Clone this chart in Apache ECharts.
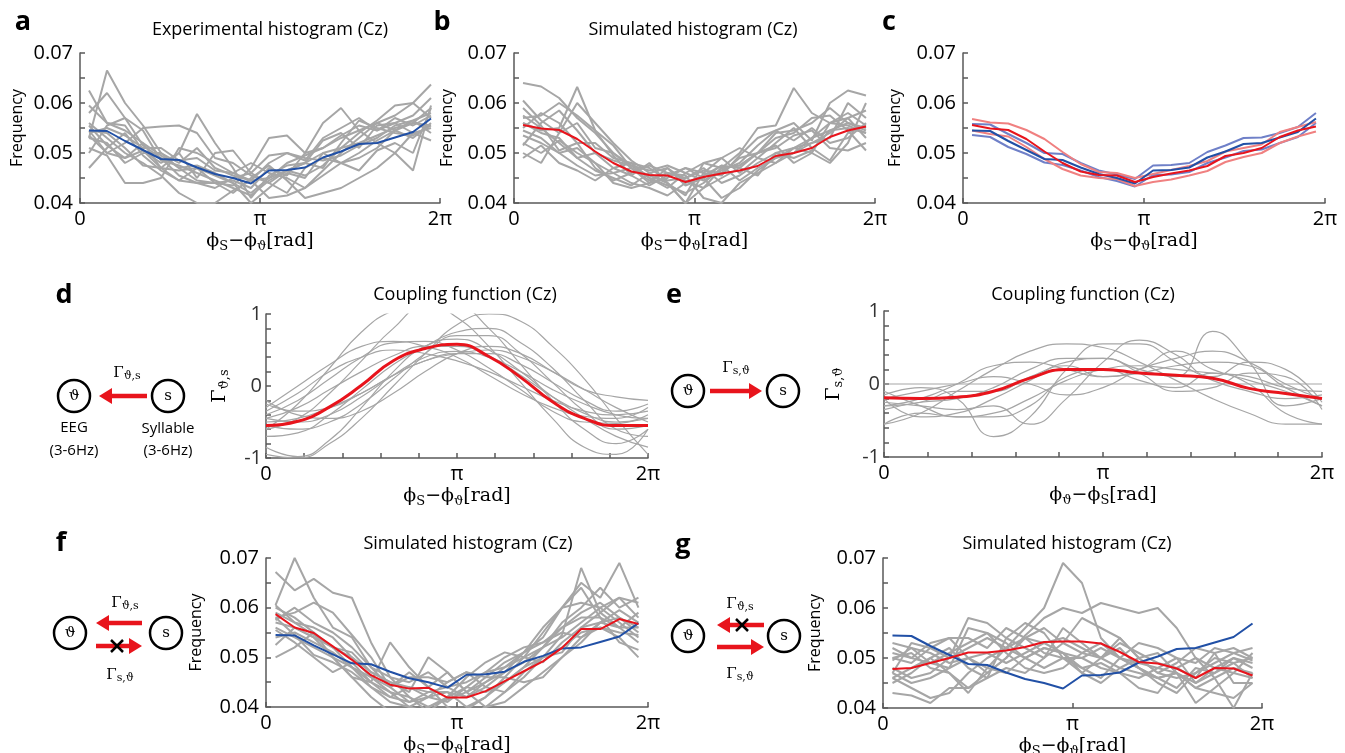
<!DOCTYPE html>
<html>
<head>
<meta charset="utf-8">
<script src="https://cdn.jsdelivr.net/npm/echarts@6/dist/echarts.min.js"></script>
<style>
  html, body { margin: 0; padding: 0; background: #fff; }
  #main { width: 1345px; height: 753px; }
</style>
</head>
<body>
<div id="main"></div>
<script>
const PI = Math.PI;
const nBins = 20;
// histogram bins plotted at their centres, coupling curves sampled every pi/6
const binCenters = Array.from({ length: nBins }, (_, i) => (i + 0.5) * 2 * PI / nBins);
const curveX = Array.from({ length: 13 }, (_, k) => k * PI / 6);

// group means
const expMean = [0.0545,0.0544,0.0524,0.0506,0.0488,0.0486,0.0471,0.0458,0.0450,0.0439,0.0465,0.0466,0.0471,0.0491,0.0503,0.0518,0.0520,0.0531,0.0542,0.0569];
const simMean = [0.0556,0.0549,0.0546,0.0528,0.0503,0.0480,0.0463,0.0456,0.0455,0.0442,0.0452,0.0459,0.0465,0.0474,0.0494,0.0500,0.0510,0.0532,0.0545,0.0553];
const fMean   = [0.0587,0.0560,0.0549,0.0522,0.0495,0.0464,0.0445,0.0437,0.0439,0.0419,0.0419,0.0432,0.0452,0.0472,0.0492,0.0519,0.0557,0.0557,0.0577,0.0567];
const gMean   = [0.0478,0.0480,0.0490,0.0500,0.0511,0.0511,0.0515,0.0522,0.0532,0.0533,0.0533,0.0529,0.0512,0.0492,0.0489,0.0479,0.0460,0.0480,0.0479,0.0465];

// panel c: mean +/- s.e.
const expHi = [0.0558,0.0557,0.0538,0.0520,0.0500,0.0498,0.0480,0.0465,0.0457,0.0448,0.0475,0.0476,0.0480,0.0502,0.0515,0.0530,0.0531,0.0540,0.0552,0.0580];
const expLo = [0.0536,0.0532,0.0512,0.0498,0.0481,0.0476,0.0465,0.0452,0.0444,0.0433,0.0456,0.0457,0.0462,0.0480,0.0491,0.0504,0.0507,0.0520,0.0532,0.0560];
const simHi = [0.0568,0.0561,0.0559,0.0546,0.0528,0.0502,0.0478,0.0462,0.0460,0.0450,0.0458,0.0466,0.0474,0.0484,0.0503,0.0510,0.0517,0.0542,0.0552,0.0562];
const simLo = [0.0545,0.0538,0.0533,0.0512,0.0488,0.0468,0.0455,0.0450,0.0448,0.0434,0.0442,0.0447,0.0455,0.0464,0.0482,0.0492,0.0500,0.0520,0.0533,0.0543];

// individual subjects, panel a
const grayA = [
  [0.0625,0.0560,0.0545,0.0520,0.0495,0.0470,0.0475,0.0460,0.0440,0.0420,0.0450,0.0480,0.0495,0.0510,0.0530,0.0545,0.0560,0.0575,0.0600,0.0637],
  [0.0530,0.0665,0.0600,0.0555,0.0500,0.0480,0.0510,0.0470,0.0455,0.0445,0.0480,0.0500,0.0485,0.0530,0.0550,0.0570,0.0545,0.0560,0.0575,0.0610],
  [0.0545,0.0500,0.0490,0.0505,0.0480,0.0500,0.0578,0.0520,0.0470,0.0410,0.0455,0.0475,0.0480,0.0525,0.0540,0.0510,0.0555,0.0560,0.0540,0.0550],
  [0.0470,0.0510,0.0540,0.0495,0.0465,0.0445,0.0440,0.0430,0.0450,0.0460,0.0440,0.0420,0.0470,0.0490,0.0480,0.0500,0.0525,0.0545,0.0560,0.0590],
  [0.0580,0.0620,0.0570,0.0515,0.0490,0.0455,0.0440,0.0440,0.0435,0.0470,0.0530,0.0535,0.0500,0.0560,0.0590,0.0545,0.0520,0.0500,0.0465,0.0595],
  [0.0510,0.0495,0.0440,0.0440,0.0450,0.0510,0.0500,0.0480,0.0460,0.0480,0.0460,0.0450,0.0430,0.0455,0.0480,0.0490,0.0510,0.0545,0.0565,0.0540],
  [0.0560,0.0530,0.0500,0.0480,0.0455,0.0420,0.0400,0.0400,0.0425,0.0445,0.0410,0.0415,0.0430,0.0465,0.0500,0.0530,0.0560,0.0545,0.0530,0.0560],
  [0.0535,0.0500,0.0520,0.0550,0.0553,0.0555,0.0540,0.0490,0.0480,0.0455,0.0440,0.0465,0.0455,0.0475,0.0510,0.0540,0.0565,0.0595,0.0600,0.0570],
  [0.0595,0.0560,0.0555,0.0505,0.0470,0.0445,0.0470,0.0440,0.0420,0.0450,0.0475,0.0445,0.0410,0.0420,0.0430,0.0450,0.0470,0.0500,0.0540,0.0525],
  [0.0545,0.0540,0.0510,0.0475,0.0470,0.0500,0.0450,0.0500,0.0505,0.0460,0.0495,0.0500,0.0490,0.0485,0.0495,0.0515,0.0530,0.0555,0.0565,0.0580],
  [0.0530,0.0520,0.0480,0.0500,0.0500,0.0470,0.0445,0.0440,0.0445,0.0430,0.0470,0.0455,0.0500,0.0510,0.0535,0.0555,0.0545,0.0570,0.0555,0.0575],
  [0.0500,0.0555,0.0570,0.0545,0.0485,0.0475,0.0460,0.0445,0.0430,0.0415,0.0445,0.0465,0.0480,0.0470,0.0520,0.0565,0.0550,0.0540,0.0535,0.0555],
  [0.0555,0.0515,0.0490,0.0520,0.0470,0.0465,0.0470,0.0455,0.0440,0.0400,0.0430,0.0460,0.0450,0.0500,0.0480,0.0465,0.0505,0.0520,0.0500,0.0590],
  [0.0540,0.0550,0.0535,0.0510,0.0510,0.0485,0.0490,0.0465,0.0460,0.0445,0.0450,0.0465,0.0480,0.0500,0.0510,0.0520,0.0535,0.0550,0.0560,0.0555]
];

// panel b
const grayB = [
  [0.0640,0.0633,0.0610,0.0570,0.0540,0.0500,0.0475,0.0450,0.0435,0.0420,0.0440,0.0470,0.0500,0.0550,0.0555,0.0630,0.0580,0.0560,0.0555,0.0540],
  [0.0605,0.0565,0.0540,0.0600,0.0560,0.0520,0.0485,0.0460,0.0440,0.0400,0.0460,0.0455,0.0495,0.0530,0.0545,0.0560,0.0525,0.0600,0.0625,0.0615],
  [0.0560,0.0545,0.0550,0.0632,0.0545,0.0495,0.0455,0.0435,0.0455,0.0470,0.0450,0.0410,0.0430,0.0465,0.0490,0.0510,0.0530,0.0560,0.0580,0.0555],
  [0.0490,0.0515,0.0480,0.0465,0.0445,0.0470,0.0480,0.0470,0.0445,0.0450,0.0470,0.0440,0.0455,0.0480,0.0500,0.0490,0.0505,0.0545,0.0550,0.0540],
  [0.0520,0.0500,0.0525,0.0500,0.0480,0.0460,0.0440,0.0430,0.0415,0.0440,0.0455,0.0475,0.0470,0.0500,0.0515,0.0480,0.0500,0.0560,0.0570,0.0530],
  [0.0570,0.0575,0.0600,0.0575,0.0545,0.0515,0.0470,0.0445,0.0460,0.0455,0.0410,0.0400,0.0440,0.0460,0.0480,0.0510,0.0500,0.0480,0.0520,0.0600],
  [0.0550,0.0580,0.0560,0.0520,0.0520,0.0490,0.0480,0.0450,0.0430,0.0460,0.0480,0.0470,0.0475,0.0500,0.0530,0.0540,0.0570,0.0575,0.0545,0.0505],
  [0.0535,0.0520,0.0500,0.0510,0.0480,0.0440,0.0430,0.0440,0.0470,0.0445,0.0430,0.0450,0.0470,0.0455,0.0500,0.0510,0.0520,0.0530,0.0600,0.0570],
  [0.0575,0.0550,0.0520,0.0490,0.0500,0.0470,0.0455,0.0480,0.0440,0.0415,0.0480,0.0490,0.0460,0.0490,0.0520,0.0550,0.0510,0.0485,0.0540,0.0555],
  [0.0515,0.0560,0.0585,0.0545,0.0500,0.0485,0.0475,0.0465,0.0475,0.0460,0.0445,0.0465,0.0480,0.0515,0.0545,0.0525,0.0550,0.0520,0.0530,0.0560],
  [0.0560,0.0540,0.0530,0.0490,0.0465,0.0450,0.0435,0.0460,0.0470,0.0435,0.0450,0.0475,0.0445,0.0470,0.0490,0.0500,0.0530,0.0545,0.0560,0.0545],
  [0.0590,0.0555,0.0505,0.0520,0.0470,0.0445,0.0460,0.0475,0.0460,0.0450,0.0465,0.0460,0.0490,0.0500,0.0510,0.0535,0.0545,0.0510,0.0505,0.0520],
  [0.0545,0.0530,0.0500,0.0475,0.0455,0.0460,0.0470,0.0455,0.0440,0.0400,0.0430,0.0470,0.0475,0.0500,0.0540,0.0545,0.0560,0.0590,0.0560,0.0550],
  [0.0500,0.0480,0.0540,0.0560,0.0510,0.0500,0.0470,0.0440,0.0450,0.0470,0.0460,0.0490,0.0510,0.0490,0.0480,0.0500,0.0520,0.0540,0.0570,0.0585]
];

// panel f
const grayF = [
  [0.0672,0.0635,0.0658,0.0630,0.0620,0.0530,0.0460,0.0420,0.0390,0.0380,0.0395,0.0420,0.0460,0.0500,0.0550,0.0600,0.0650,0.0620,0.0690,0.0600],
  [0.0605,0.0700,0.0620,0.0560,0.0540,0.0480,0.0440,0.0410,0.0420,0.0430,0.0400,0.0420,0.0450,0.0480,0.0520,0.0570,0.0600,0.0640,0.0600,0.0620],
  [0.0580,0.0590,0.0610,0.0590,0.0545,0.0500,0.0440,0.0470,0.0440,0.0400,0.0380,0.0400,0.0430,0.0470,0.0500,0.0545,0.0680,0.0590,0.0560,0.0590],
  [0.0500,0.0520,0.0550,0.0520,0.0500,0.0460,0.0430,0.0400,0.0420,0.0450,0.0470,0.0440,0.0430,0.0460,0.0500,0.0520,0.0550,0.0560,0.0540,0.0500],
  [0.0570,0.0560,0.0540,0.0520,0.0510,0.0470,0.0450,0.0430,0.0500,0.0470,0.0430,0.0460,0.0490,0.0510,0.0530,0.0560,0.0580,0.0580,0.0560,0.0530],
  [0.0555,0.0530,0.0500,0.0470,0.0490,0.0450,0.0420,0.0440,0.0420,0.0410,0.0440,0.0470,0.0480,0.0500,0.0490,0.0530,0.0560,0.0570,0.0595,0.0570],
  [0.0590,0.0570,0.0545,0.0520,0.0480,0.0440,0.0410,0.0400,0.0390,0.0420,0.0460,0.0490,0.0510,0.0500,0.0520,0.0540,0.0570,0.0600,0.0620,0.0610],
  [0.0525,0.0560,0.0540,0.0500,0.0460,0.0450,0.0530,0.0480,0.0440,0.0470,0.0430,0.0400,0.0410,0.0440,0.0470,0.0500,0.0530,0.0570,0.0580,0.0550],
  [0.0600,0.0580,0.0550,0.0500,0.0460,0.0420,0.0390,0.0380,0.0400,0.0415,0.0430,0.0450,0.0470,0.0490,0.0520,0.0560,0.0590,0.0610,0.0580,0.0560],
  [0.0580,0.0545,0.0505,0.0490,0.0470,0.0440,0.0420,0.0410,0.0430,0.0440,0.0450,0.0470,0.0500,0.0520,0.0530,0.0550,0.0540,0.0560,0.0550,0.0545],
  [0.0560,0.0540,0.0520,0.0500,0.0480,0.0460,0.0440,0.0460,0.0460,0.0450,0.0470,0.0460,0.0460,0.0450,0.0460,0.0500,0.0540,0.0570,0.0560,0.0560],
  [0.0540,0.0550,0.0530,0.0510,0.0480,0.0450,0.0430,0.0420,0.0400,0.0420,0.0440,0.0430,0.0450,0.0480,0.0500,0.0510,0.0560,0.0590,0.0620,0.0580],
  [0.0575,0.0600,0.0570,0.0550,0.0520,0.0480,0.0460,0.0450,0.0470,0.0440,0.0420,0.0440,0.0470,0.0510,0.0540,0.0600,0.0640,0.0580,0.0530,0.0515],
  [0.0605,0.0570,0.0560,0.0540,0.0500,0.0470,0.0450,0.0440,0.0430,0.0430,0.0420,0.0450,0.0480,0.0510,0.0560,0.0600,0.0610,0.0600,0.0570,0.0540]
];

// panel g
const grayG = [
  [0.0460,0.0440,0.0420,0.0430,0.0470,0.0500,0.0520,0.0560,0.0600,0.0690,0.0650,0.0540,0.0500,0.0480,0.0460,0.0470,0.0440,0.0430,0.0420,0.0450],
  [0.0430,0.0425,0.0410,0.0440,0.0440,0.0470,0.0500,0.0545,0.0580,0.0600,0.0590,0.0610,0.0600,0.0590,0.0600,0.0560,0.0500,0.0460,0.0400,0.0470],
  [0.0500,0.0490,0.0520,0.0500,0.0580,0.0570,0.0540,0.0520,0.0500,0.0530,0.0580,0.0560,0.0540,0.0500,0.0470,0.0460,0.0470,0.0490,0.0510,0.0495],
  [0.0520,0.0500,0.0490,0.0480,0.0560,0.0550,0.0530,0.0500,0.0520,0.0510,0.0500,0.0520,0.0500,0.0490,0.0480,0.0470,0.0450,0.0470,0.0500,0.0480],
  [0.0470,0.0530,0.0520,0.0540,0.0500,0.0470,0.0500,0.0540,0.0560,0.0530,0.0510,0.0500,0.0530,0.0510,0.0490,0.0480,0.0460,0.0510,0.0520,0.0500],
  [0.0480,0.0460,0.0470,0.0500,0.0520,0.0540,0.0520,0.0540,0.0510,0.0500,0.0500,0.0480,0.0470,0.0440,0.0430,0.0480,0.0500,0.0480,0.0470,0.0460],
  [0.0510,0.0500,0.0530,0.0540,0.0540,0.0520,0.0560,0.0540,0.0530,0.0510,0.0480,0.0490,0.0470,0.0460,0.0480,0.0500,0.0490,0.0520,0.0510,0.0520],
  [0.0450,0.0470,0.0500,0.0470,0.0440,0.0460,0.0480,0.0470,0.0500,0.0560,0.0530,0.0500,0.0520,0.0480,0.0460,0.0440,0.0480,0.0470,0.0490,0.0460],
  [0.0495,0.0520,0.0510,0.0490,0.0500,0.0510,0.0490,0.0510,0.0530,0.0540,0.0520,0.0500,0.0480,0.0500,0.0510,0.0470,0.0440,0.0460,0.0480,0.0470],
  [0.0460,0.0480,0.0500,0.0520,0.0480,0.0460,0.0540,0.0570,0.0550,0.0500,0.0480,0.0460,0.0500,0.0530,0.0520,0.0500,0.0450,0.0480,0.0500,0.0490],
  [0.0500,0.0510,0.0480,0.0470,0.0430,0.0480,0.0520,0.0500,0.0480,0.0500,0.0470,0.0500,0.0540,0.0500,0.0470,0.0490,0.0520,0.0510,0.0450,0.0450],
  [0.0530,0.0520,0.0490,0.0510,0.0530,0.0550,0.0510,0.0480,0.0470,0.0480,0.0510,0.0530,0.0500,0.0480,0.0450,0.0430,0.0470,0.0500,0.0490,0.0500],
  [0.0470,0.0450,0.0460,0.0480,0.0500,0.0480,0.0470,0.0500,0.0520,0.0510,0.0470,0.0450,0.0480,0.0470,0.0460,0.0470,0.0410,0.0440,0.0470,0.0510]
];

// coupling functions, sampled at k*pi/6
const couplingD = [-0.55,-0.49,-0.29,0.01,0.35,0.52,0.58,0.41,0.12,-0.22,-0.45,-0.55,-0.55];
const grayD = [
  [-0.45,-0.30,-0.05,0.20,0.42,0.55,0.55,0.42,0.15,-0.15,-0.38,-0.50,-0.45],
  [-0.60,-0.45,-0.10,0.35,0.80,1.10,1.10,0.80,0.30,-0.20,-0.60,-0.80,-0.60],
  [-0.95,-1.00,-0.80,-0.45,0.00,0.45,0.85,1.00,0.90,0.55,0.10,-0.45,-0.95],
  [-0.30,0.00,0.30,0.55,0.62,0.55,0.40,0.15,-0.10,-0.30,-0.42,-0.45,-0.30],
  [-0.40,-0.20,0.10,0.40,0.60,0.62,0.50,0.25,-0.05,-0.35,-0.50,-0.52,-0.40],
  [-0.70,-0.65,-0.40,-0.05,0.30,0.55,0.75,0.80,0.60,0.25,-0.20,-0.60,-0.70],
  [-0.50,-0.45,-0.30,-0.10,0.15,0.35,0.45,0.50,0.40,0.20,-0.05,-0.30,-0.50],
  [-0.25,-0.35,-0.30,-0.10,0.15,0.35,0.45,0.45,0.30,0.05,-0.20,-0.35,-0.25],
  [-0.60,-0.25,0.25,0.75,1.05,1.15,0.95,0.55,0.05,-0.45,-0.85,-0.95,-0.60],
  [-0.45,-0.50,-0.40,-0.15,0.15,0.40,0.48,0.40,0.20,-0.05,-0.25,-0.40,-0.45],
  [-0.35,-0.10,0.20,0.40,0.50,0.45,0.35,0.20,0.00,-0.20,-0.35,-0.40,-0.35],
  [-0.20,-0.40,-0.45,-0.35,-0.10,0.20,0.45,0.55,0.45,0.20,-0.05,-0.15,-0.20],
  [-0.55,-0.60,-0.50,-0.25,0.10,0.45,0.70,0.70,0.45,0.05,-0.35,-0.60,-0.55],
  [-0.85,-0.98,-0.75,-0.30,0.20,0.55,0.65,0.50,0.20,-0.15,-0.45,-0.70,-0.85]
];
const couplingE = [-0.19,-0.20,-0.18,-0.10,0.08,0.20,0.20,0.15,0.12,0.08,-0.06,-0.13,-0.20];
const grayE = [
  [0,0,0,0,0,0,0,0,0,0,0,0,0],
  [-0.15,-0.05,-0.20,-0.72,-0.45,0.20,0.55,0.55,0.30,0.05,-0.10,-0.20,-0.15],
  [-0.55,-0.40,-0.10,0.20,0.45,0.55,0.50,0.30,0.05,-0.20,-0.40,-0.55,-0.55],
  [-0.25,-0.30,-0.35,-0.30,-0.55,-0.20,0.30,0.60,0.40,0.10,0.30,0.20,-0.25],
  [-0.30,-0.25,-0.10,-0.10,0.10,0.25,0.10,0.20,0.45,0.20,0.05,-0.10,-0.30],
  [-0.20,-0.45,-0.40,-0.20,0.05,0.30,0.35,0.20,0.10,0.72,0.30,-0.30,-0.20],
  [-0.30,-0.20,0.00,0.25,0.30,0.20,0.10,0.15,0.25,0.30,0.25,-0.05,-0.30],
  [-0.55,-0.40,-0.45,-0.45,-0.30,0.10,0.20,0.05,-0.05,0.15,0.00,-0.40,-0.55],
  [-0.20,-0.10,0.00,0.10,0.00,-0.15,-0.05,0.20,0.35,0.45,0.30,0.00,-0.20],
  [-0.35,-0.25,-0.20,-0.05,0.20,0.35,0.35,0.15,-0.10,-0.05,0.15,0.10,-0.35],
  [-0.10,-0.30,-0.45,-0.40,-0.20,0.05,0.20,0.25,0.20,0.15,0.10,-0.05,-0.10]
];

const GRAY = '#a6a6a6', RED = '#e8141c', BLUE = '#2150a6', LRED = '#f08080', LBLUE = '#6f80c8';
const AXC = '#595959';
const SANS = 'Open Sans';
const SERIF = 'DejaVu Serif';

const pts = (xs, ys) => ys.map((y, i) => [xs[i], y]);

function line(g, xs, ys, color, width, extra) {
  return Object.assign({
    type: 'line', xAxisIndex: g, yAxisIndex: g, data: pts(xs, ys),
    symbol: 'none', silent: true, animation: false,
    lineStyle: { color: color, width: width }
  }, extra || {});
}

function piFmt(v) {
  if (Math.abs(v) < 1e-6) return '0';
  if (Math.abs(v - PI) < 1e-6) return 'π';
  if (Math.abs(v - 2 * PI) < 1e-6) return '2π';
  return '';
}

const nameRich = {
  t: { fontFamily: SERIF, fontSize: 19, color: '#000', lineHeight: 26 },
  s: { fontFamily: SERIF, fontSize: 13, color: '#000', lineHeight: 26, padding: [10, 0, 0, 0] }
};

function phaseAxis(g, interval, name) {
  return {
    gridIndex: g, type: 'value', min: 0, max: 2 * PI, interval: interval,
    axisLine: { show: true, onZero: false, lineStyle: { color: AXC, width: 1.5 } },
    axisTick: { show: true, inside: true, length: 5, lineStyle: { color: AXC, width: 1.5 } },
    axisLabel: { formatter: piFmt, fontSize: 20, fontFamily: SANS, color: '#000', margin: 6, showMaxLabel: true },
    splitLine: { show: false },
    name: name, nameLocation: 'middle', nameGap: 25,
    nameTextStyle: { rich: nameRich }
  };
}

function freqAxis(g, gap) {
  return {
    gridIndex: g, type: 'value', min: 0.04, max: 0.07, interval: 0.005,
    axisLine: { show: true, onZero: false, lineStyle: { color: AXC, width: 1.5 } },
    axisTick: { show: true, inside: true, length: 5, lineStyle: { color: AXC, width: 1.5 } },
    axisLabel: {
      formatter: v => (Math.round(v * 1000) % 10 === 0 ? v.toFixed(2) : ''),
      fontSize: 20, fontFamily: SANS, color: '#000', margin: 7
    },
    splitLine: { show: false },
    name: 'Frequency', nameLocation: 'middle', nameGap: gap,
    nameTextStyle: { fontSize: 16, fontFamily: SANS, color: '#000' }
  };
}

function gammaAxis(g, sub, gap) {
  return {
    gridIndex: g, type: 'value', min: -1, max: 1, interval: 0.2,
    axisLine: { show: true, onZero: false, lineStyle: { color: AXC, width: 1.5 } },
    axisTick: { show: true, inside: true, length: 5, lineStyle: { color: AXC, width: 1.5 } },
    axisLabel: {
      formatter: v => (Math.abs(v) < 1e-6 ? '0' : (Math.abs(Math.abs(v) - 1) < 1e-6 ? (v > 0 ? '1' : '-1') : '')),
      fontSize: 20, fontFamily: SANS, color: '#333', margin: 4
    },
    splitLine: { show: false },
    name: '{t|Γ}{s|' + sub + '}', nameLocation: 'middle', nameGap: gap,
    nameTextStyle: { rich: nameRich }
  };
}

const nameSTh = '{t|ϕ}{s|S}{t|−ϕ}{s|ϑ}{t|[rad]}';
const nameThS = '{t|ϕ}{s|ϑ}{t|−ϕ}{s|S}{t|[rad]}';

const grids = [
  { left: 80,  top: 53,  width: 360, height: 150 },  // a
  { left: 514, top: 53,  width: 361, height: 150 },  // b
  { left: 963, top: 53,  width: 362, height: 150 },  // c
  { left: 266, top: 314, width: 382, height: 144 },  // d
  { left: 884, top: 311, width: 438, height: 146 },  // e
  { left: 266, top: 558, width: 382, height: 149 },  // f
  { left: 883, top: 558, width: 379, height: 150 }   // g
].map(g => Object.assign({ outerBoundsMode: 'none' }, g));

const xAxes = [
  phaseAxis(0, PI, nameSTh), phaseAxis(1, PI, nameSTh), phaseAxis(2, PI, nameSTh),
  phaseAxis(3, PI / 5, nameSTh), phaseAxis(4, PI / 5, nameThS),
  phaseAxis(5, PI, nameSTh), phaseAxis(6, PI, nameSTh)
];
const yAxes = [
  freqAxis(0, 55), freqAxis(1, 59), freqAxis(2, 60),
  gammaAxis(3, 'ϑ,s', 33), gammaAxis(4, 's,ϑ', 37),
  freqAxis(5, 62), freqAxis(6, 60)
];

const series = [];
grayA.forEach(s => series.push(line(0, binCenters, s, GRAY, 2)));
series.push(line(0, binCenters, expMean, BLUE, 2));
grayB.forEach(s => series.push(line(1, binCenters, s, GRAY, 2)));
series.push(line(1, binCenters, simMean, RED, 2));
[expHi, expLo].forEach(s => series.push(line(2, binCenters, s, LBLUE, 2)));
[simHi, simLo].forEach(s => series.push(line(2, binCenters, s, LRED, 2)));
series.push(line(2, binCenters, expMean, BLUE, 2));
series.push(line(2, binCenters, simMean, RED, 2));
grayD.forEach(s => series.push(line(3, curveX, s, GRAY, 1.2, { smooth: 0.5 })));
series.push(line(3, curveX, couplingD, RED, 3, { smooth: 0.5 }));
grayE.forEach(s => series.push(line(4, curveX, s, GRAY, 1.2, { smooth: 0.5 })));
series.push(line(4, curveX, couplingE, RED, 3, { smooth: 0.5 }));
grayF.forEach(s => series.push(line(5, binCenters, s, GRAY, 2)));
series.push(line(5, binCenters, expMean, BLUE, 2));
series.push(line(5, binCenters, fMean, RED, 2));
grayG.forEach(s => series.push(line(6, binCenters, s, GRAY, 2)));
series.push(line(6, binCenters, expMean, BLUE, 2));
series.push(line(6, binCenters, gMean, RED, 2));

// ---- annotation drawings (panel letters, titles, node diagrams)
function txt(x, y, text, size, weight, family) {
  return { type: 'text', x: x, y: y, silent: true,
    style: { text: text, fontSize: size, fontWeight: weight || 'normal', fontFamily: family || SANS,
      fill: '#000', align: 'center', verticalAlign: 'middle' } };
}
function node(cx, cy, label) {
  return [
    { type: 'circle', silent: true, shape: { cx: cx, cy: cy, r: 16 }, style: { fill: '#fff', stroke: '#000', lineWidth: 2.5 } },
    txt(cx, cy, label, 15, 'normal', SERIF)
  ];
}
function arrow(x1, x2, y) {
  const d = x2 > x1 ? 1 : -1;
  return [
    { type: 'line', silent: true, shape: { x1: x1, y1: y, x2: x2 - d * 11, y2: y }, style: { stroke: RED, lineWidth: 4.5 } },
    { type: 'polygon', silent: true, shape: { points: [[x2, y], [x2 - d * 13, y - 8], [x2 - d * 13, y + 8]] }, style: { fill: RED } }
  ];
}
function cross(cx, cy) {
  const h = 6;
  return [
    { type: 'line', silent: true, shape: { x1: cx - h, y1: cy - h, x2: cx + h, y2: cy + h }, style: { stroke: '#000', lineWidth: 2.5 } },
    { type: 'line', silent: true, shape: { x1: cx - h, y1: cy + h, x2: cx + h, y2: cy - h }, style: { stroke: '#000', lineWidth: 2.5 } }
  ];
}
function gamma(x, y, sub) {
  return { type: 'text', x: x, y: y, silent: true,
    style: { text: '{g|Γ}{s|' + sub + '}', align: 'center', verticalAlign: 'middle',
      rich: {
        g: { fontFamily: SERIF, fontSize: 15, fill: '#000', lineHeight: 20 },
        s: { fontFamily: SERIF, fontSize: 11, fill: '#000', lineHeight: 20, padding: [7, 0, 0, 0] }
      } } };
}

const graphics = [
  txt(23, 22, 'a', 27, 'bold'), txt(442, 22, 'b', 27, 'bold'), txt(889, 22, 'c', 27, 'bold'),
  txt(64, 295, 'd', 27, 'bold'), txt(674, 295, 'e', 27, 'bold'),
  txt(61, 543, 'f', 27, 'bold'), txt(683, 545, 'g', 27, 'bold'),
  txt(270, 30, 'Experimental histogram (Cz)', 18),
  txt(693, 30, 'Simulated histogram (Cz)', 18),
  txt(465, 295, 'Coupling function (Cz)', 18),
  txt(1083, 295, 'Coupling function (Cz)', 18),
  txt(468, 544, 'Simulated histogram (Cz)', 18),
  txt(1067, 544, 'Simulated histogram (Cz)', 18),
  // d
  ...node(74, 396, 'ϑ'), ...node(168, 396, 's'),
  ...arrow(147, 99, 396), gamma(127, 373, 'ϑ,s'),
  txt(74, 428, 'EEG', 15), txt(74, 451, '(3-6Hz)', 15),
  txt(168, 429, 'Syllable', 15), txt(168, 451, '(3-6Hz)', 15),
  // e
  ...node(688, 391, 'ϑ'), ...node(783, 391, 's'),
  ...arrow(710, 762, 391), gamma(736, 368, 's,ϑ'),
  // f
  ...node(70, 633, 'ϑ'), ...node(166, 633, 's'),
  ...arrow(142, 96, 623), ...arrow(96, 142, 646), ...cross(117, 646),
  gamma(125, 603, 'ϑ,s'), gamma(120, 675, 's,ϑ'),
  // g
  ...node(688, 636, 'ϑ'), ...node(784, 636, 's'),
  ...arrow(764, 717, 625), ...arrow(717, 764, 647), ...cross(742, 625),
  gamma(740, 604, 'ϑ,s'), gamma(740, 674, 's,ϑ')
];

const chart = echarts.init(document.getElementById('main'), null, { renderer: 'canvas' });
chart.setOption({
  backgroundColor: '#fff',
  animation: false,
  grid: grids,
  xAxis: xAxes,
  yAxis: yAxes,
  series: series,
  graphic: graphics
});
</script>
</body>
</html>
